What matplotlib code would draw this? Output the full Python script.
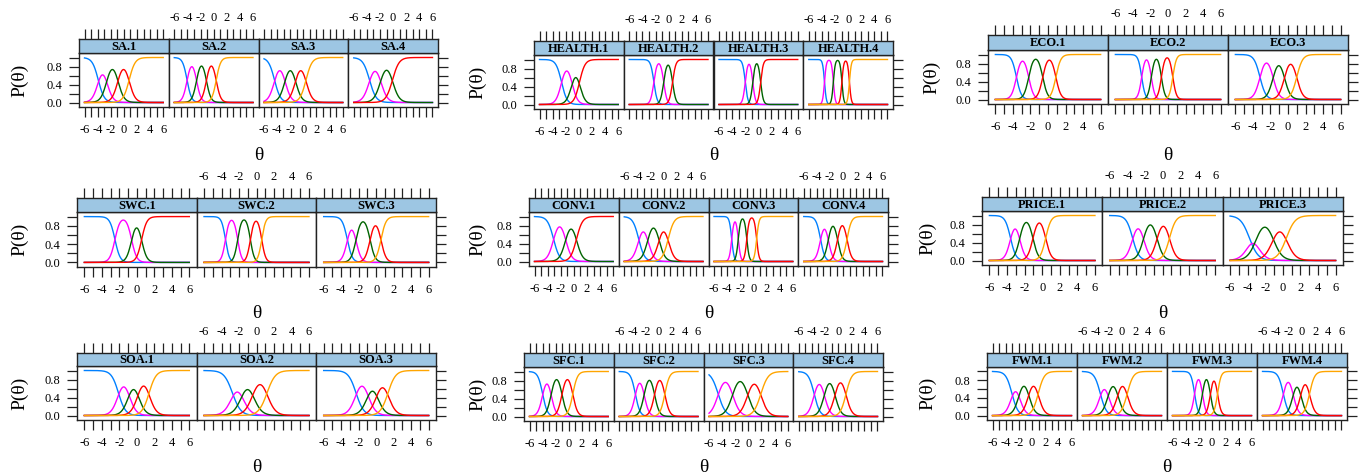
import numpy as np
import matplotlib.pyplot as plt

plt.rcParams['font.family'] = ['Liberation Serif', 'DejaVu Serif']

# graded response item parameters:
# slope a and ordered thresholds b for each item
sa_items = ['SA.1', 'SA.2', 'SA.3', 'SA.4']
sa_a = [2.2, 3.0, 2.2, 2.0]
sa_b = [[-3.9, -2.6, -0.9, 0.8], [-4.05, -2.6, -1.1, 0.4],
        [-4.4, -2.8, -1.2, 0.4], [-3.6, -1.9, -0.1]]

health_items = ['HEALTH.1', 'HEALTH.2', 'HEALTH.3', 'HEALTH.4']
health_a = [2.4, 4.0, 5.0, 7.0]
health_b = [[-2.65, -1.05, 0.1], [-2.25, -0.75, 0.6],
            [-2.0, -0.85, 0.35], [-3.6, -2.25, -0.95, 0.2]]

eco_items = ['ECO.1', 'ECO.2', 'ECO.3']
eco_a = [3.6, 5.0, 3.0]
eco_b = [[-3.6, -2.2, -0.6, 0.9], [-3.0, -1.9, -0.75, 0.55],
         [-3.2, -1.7, -0.4, 1.0]]

swc_items = ['SWC.1', 'SWC.2', 'SWC.3']
swc_a = [3.4, 4.5, 3.5]
swc_b = [[-2.5, -0.6, 0.55], [-3.55, -2.15, -0.7, 0.6],
         [-3.3, -2.3, -0.7, 0.55]]

conv_items = ['CONV.1', 'CONV.2', 'CONV.3', 'CONV.4']
conv_a = [2.2, 2.25, 5.5, 3.0]
conv_b = [[-3.1, -1.25, 0.4], [-3.8, -2.4, -0.7, 0.7],
          [-3.3, -2.3, -1.0, 0.5], [-3.45, -2.25, -0.85, 0.6]]

price_items = ['PRICE.1', 'PRICE.2', 'PRICE.3']
price_a = [3.3, 2.8, 2.0]
price_b = [[-3.6, -2.55, -1.05, 0.4], [-3.4, -2.15, -0.62, 0.8],
           [-3.8, -3.0, -1.1, 0.4]]

soa_items = ['SOA.1', 'SOA.2', 'SOA.3']
soa_a = [2.5, 2.1, 2.3]
soa_b = [[-2.1, -0.9, 0.15, 1.4], [-2.75, -1.65, -0.4, 1.2],
         [-2.3, -0.95, 0.1, 1.35]]

sfc_items = ['SFC.1', 'SFC.2', 'SFC.3', 'SFC.4']
sfc_a = [2.8, 2.8, 1.8, 2.3]
sfc_b = [[-4.0, -2.7, -1.05, 0.6], [-3.55, -2.2, -0.62, 0.95],
         [-4.6, -2.4, -0.1, 1.9], [-3.65, -2.1, -0.48, 1.2]]

fwm_items = ['FWM.1', 'FWM.2', 'FWM.3', 'FWM.4']
fwm_a = [2.2, 2.2, 3.8, 2.6]
fwm_b = [[-3.05, -1.95, -0.5, 0.95], [-3.3, -2.07, -0.64, 0.8],
         [-2.65, -1.45, -0.25, 0.85], [-2.85, -1.35, -0.18, 1.15]]

groups = [(sa_items, sa_a, sa_b), (health_items, health_a, health_b),
          (eco_items, eco_a, eco_b), (swc_items, swc_a, swc_b),
          (conv_items, conv_a, conv_b), (price_items, price_a, price_b),
          (soa_items, soa_a, soa_b), (sfc_items, sfc_a, sfc_b),
          (fwm_items, fwm_a, fwm_b)]

# layout in pixels: left, right, strip top, strip bottom, panel bottom
boxes = [(79, 438, 39, 53, 107), (534, 893, 41, 55, 109), (988, 1348, 35, 50, 104),
         (77, 436, 198, 212, 267), (529, 888, 198, 212, 266), (982, 1343, 197, 211, 265),
         (77, 436, 353, 366, 420), (524, 883, 353, 367, 421), (987, 1347, 353, 367, 420)]
ylab_x = [20, 478, 932, 20, 478, 928, 20, 478, 928]
xlab_y = [155, 155, 155, 313, 313, 313, 468, 468, 468]

W, H = 1359, 474
cols = ['#0080ff', '#ff00ff', '#006400', '#ff0000', '#ffa500']
strip_col = '#9dc6e3'
edge = '#222222'
theta = np.linspace(-6, 6, 241)


def grm(a, b):
    ps = [np.ones_like(theta)] + [1 / (1 + np.exp(-a * (theta - bk))) for bk in b] + [np.zeros_like(theta)]
    return [ps[k] - ps[k + 1] for k in range(len(b) + 1)]


fig = plt.figure(figsize=(W / 100, H / 100), dpi=100)

for g, (items, avals, bvals) in enumerate(groups):
    left, right, st, sb, pb = boxes[g]
    n = len(items)
    w = (right - left) / n
    for i in range(n):
        x0 = left + i * w
        ax = fig.add_axes([x0 / W, 1 - pb / H, w / W, (pb - sb) / H])
        sx = fig.add_axes([x0 / W, 1 - sb / H, w / W, (sb - st) / H])
        for k, p in enumerate(grm(avals[i], bvals[i])):
            ax.plot(theta, p, color=cols[k], lw=1.0)
        ax.set_xlim(-6.84, 6.84)
        ax.set_ylim(-0.1, 1.1)
        sx.set_xlim(-6.84, 6.84)
        sx.set_ylim(0, 1)
        sx.set_facecolor(strip_col)
        sx.text(0.5, 0.45, items[i], transform=sx.transAxes, ha='center', va='center',
                fontsize=9, fontweight='bold')
        for a_ in (ax, sx):
            for s in a_.spines.values():
                s.set_color(edge)
                s.set_linewidth(1.0)
        # x ticks: bottom on plot, top on strip
        ax.set_xticks([-6, -4, -2, 0, 2, 4, 6])
        ax.set_xticks([-5, -3, -1, 1, 3, 5], minor=True)
        sx.set_xticks([-6, -4, -2, 0, 2, 4, 6])
        sx.set_xticks([-5, -3, -1, 1, 3, 5], minor=True)
        lab = ['-6', '-4', '-2', '0', '2', '4', '6']
        ax.tick_params(axis='x', which='both', direction='out', length=7, width=0.9,
                       color=edge, labelsize=9, pad=5, top=False,
                       labelbottom=(i % 2 == 0))
        ax.set_xticklabels(lab if i % 2 == 0 else [])
        sx.tick_params(axis='x', which='both', direction='out', length=7, width=0.9,
                       color=edge, labelsize=9, pad=4, bottom=False, labelbottom=False,
                       top=True, labeltop=(i % 2 == 1))
        sx.set_xticklabels(lab if i % 2 == 1 else [])
        sx.set_yticks([])
        # y ticks
        ax.set_yticks([0.0, 0.4, 0.8])
        ax.set_yticks([0.2, 0.6, 1.0], minor=True)
        ax.set_yticklabels(['0.0', '0.4', '0.8'])
        ax.tick_params(axis='y', which='both', direction='out', length=7, width=0.9,
                       color=edge, labelsize=9, pad=5,
                       left=(i == 0), labelleft=(i == 0), right=(i == n - 1), labelright=False)
    cy = 1 - (sb + pb) / 2 / H
    fig.text(ylab_x[g] / W, cy, 'P(θ)', rotation=90, ha='center', va='center', fontsize=14)
    fig.text((left + right) / 2 / W, 1 - xlab_y[g] / H, 'θ', ha='center', va='center', fontsize=14)

fig.savefig('out.png', dpi=100)
